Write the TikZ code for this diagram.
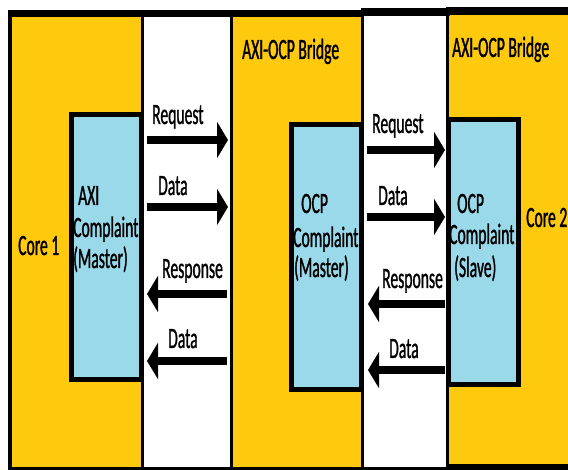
\documentclass[tikz,border=0pt]{standalone}
\usepackage{fontspec}
\setmainfont[FakeStretch=0.53,FakeBold=1.0]{Carlito}
\usetikzlibrary{arrows.meta}
\definecolor{gold}{HTML}{FFC90E}
\definecolor{lblue}{HTML}{99D9EA}
\tikzset{
  lbl/.style={anchor=base west, inner sep=0pt, font=\fontsize{29.5}{31}\selectfont, text=black},
  comp/.style={draw=black, line width=5pt, fill=lblue, minimum width=70pt, minimum height=265pt, inner sep=0pt, outer sep=0pt},
  bigarrow/.style={line width=8pt, -{Triangle[length=11pt,width=36pt]}},
  blk/.style={fill=black}
}
\begin{document}
\begin{tikzpicture}[x=1pt,y=-1pt]
\useasboundingbox (0,0) rectangle (568,470);
% panels
\fill[gold] (12,17) rectangle (141,467);
\fill[gold] (233,17) rectangle (361,467);
\fill[gold] (449,15) rectangle (568,464);
% compliant blocks
\node[comp] (axi) at (106.5,247) {};
\node[comp] (ocpm) at (326.5,257) {};
\node[comp] (ocps) at (483,252) {};
% black frame lines
\fill[blk] (8,10) rectangle (364,17);
\fill[blk] (361,8) rectangle (450,16);
\fill[blk] (446,7) rectangle (568,15);
\fill[blk] (8,10) rectangle (12,470);
\fill[blk] (8,467) rectangle (449,470);
\fill[blk] (446,464) rectangle (568,470);
\fill[blk] (141,17) rectangle (144,467);
\fill[blk] (230,17) rectangle (233,467);
\fill[blk] (361,16) rectangle (364,467);
\fill[blk] (446,15) rectangle (449,467);
% titles
\node[lbl] (t1) at (242,59) {AXI-OCP Bridge};
\node[lbl] (t2) at (452,57) {AXI-OCP Bridge};
\node[lbl] (c1) at (18,255) {Core 1};
\node[lbl] (c2) at (526,227) {Core 2};
% block texts
\node[lbl] (a1) at (78,205) {AXI};
\node[lbl] (a2) at (73,237) {Complaint};
\node[lbl] (a3) at (73,268) {(Master)};
\node[lbl] (m1) at (301,213) {OCP};
\node[lbl] (m2) at (293,247) {Complaint};
\node[lbl] (m3) at (294,277) {(Master)};
\node[lbl] (s1) at (457,213) {OCP};
\node[lbl] (s2) at (449,244) {Complaint};
\node[lbl] (s3) at (454,277) {(Slave)};
% arrow labels
\node[lbl] (l1) at (152,124) {Request};
\node[lbl] (l2) at (158,195) {Data};
\node[lbl] (l3) at (162,278) {Response};
\node[lbl] (l4) at (168,348) {Data};
\node[lbl] (l5) at (372,133) {Request};
\node[lbl] (l6) at (378,205) {Data};
\node[lbl] (l7) at (382,288) {Response};
\node[lbl] (l8) at (389,358) {Data};
% arrow end points
\coordinate (p1s) at (147,140); \coordinate (p1e) at (228,140);
\coordinate (p2s) at (147,207); \coordinate (p2e) at (228,207);
\coordinate (p3s) at (227,294); \coordinate (p3e) at (147,294);
\coordinate (p4s) at (227,361); \coordinate (p4e) at (147,361);
\coordinate (q1s) at (367,150); \coordinate (q1e) at (445,150);
\coordinate (q2s) at (367,217); \coordinate (q2e) at (445,217);
\coordinate (q3s) at (445,304); \coordinate (q3e) at (368,304);
\coordinate (q4s) at (445,370); \coordinate (q4e) at (368,370);
\draw[bigarrow] (p1s) -- (p1e);
\draw[bigarrow] (p2s) -- (p2e);
\draw[bigarrow] (p3s) -- (p3e);
\draw[bigarrow] (p4s) -- (p4e);
\draw[bigarrow] (q1s) -- (q1e);
\draw[bigarrow] (q2s) -- (q2e);
\draw[bigarrow] (q3s) -- (q3e);
\draw[bigarrow] (q4s) -- (q4e);
\end{tikzpicture}
\end{document}
